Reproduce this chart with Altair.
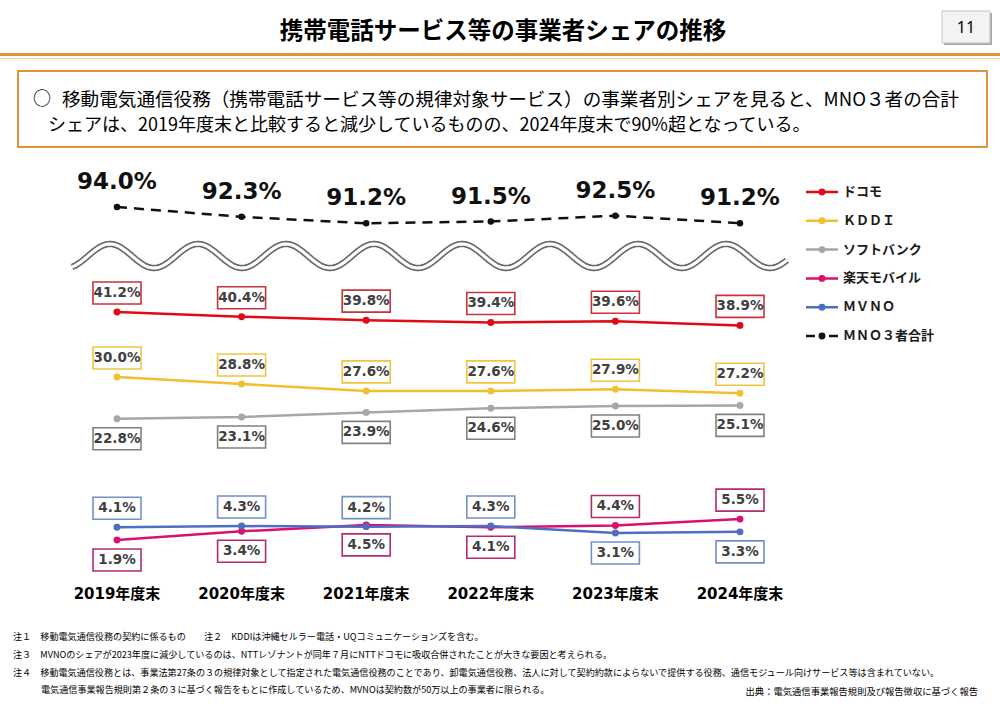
import altair as alt
import pandas as pd

# ---------------- data ----------------
years = ["2019年度末", "2020年度末", "2021年度末", "2022年度末", "2023年度末", "2024年度末"]
series_names = ["ドコモ", "ＫＤＤＩ", "ソフトバンク", "楽天モバイル", "ＭＶＮＯ", "ＭＮＯ３者合計"]
docomo = [41.2, 40.4, 39.8, 39.4, 39.6, 38.9]
kddi = [30.0, 28.8, 27.6, 27.6, 27.9, 27.2]
softbank = [22.8, 23.1, 23.9, 24.6, 25.0, 25.1]
rakuten = [1.9, 3.4, 4.5, 4.1, 4.4, 5.5]
mvno = [4.1, 4.3, 4.2, 4.3, 3.1, 3.3]
mno3 = [94.0, 92.3, 91.2, 91.5, 92.5, 91.2]

# label placement: True = label box above the point
label_above = {
    "ドコモ": [True, True, True, True, True, True],
    "ＫＤＤＩ": [True, True, True, True, True, True],
    "ソフトバンク": [False, False, False, False, False, False],
    "楽天モバイル": [False, False, False, False, True, True],
    "ＭＶＮＯ": [True, True, True, True, False, False],
}

line_colors = ["#E00B16", "#F2BF2F", "#A6A6A6", "#DB0F6D", "#4E6EC3", "#111111"]
box_colors = ["#C9323A", "#F0C440", "#808080", "#B52A6F", "#7290CB"]

title = "携帯電話サービス等の事業者シェアの推移"
summary1 = "移動電気通信役務（携帯電話サービス等の規律対象サービス）の事業者別シェアを見ると、MNO３者の合計"
summary2 = "シェアは、2019年度末と比較すると減少しているものの、2024年度末で90%超となっている。"
notes = [
    "注１　移動電気通信役務の契約に係るもの　　注２　KDDIは沖縄セルラー電話・UQコミュニケーションズを含む。",
    "注３　MVNOのシェアが2023年度に減少しているのは、NTTレゾナントが同年７月にNTTドコモに吸収合併されたことが大きな要因と考えられる。",
    "注４　移動電気通信役務とは、事業法第27条の３の規律対象として指定された電気通信役務のことであり、卸電気通信役務、法人に対して契約約款によらないで提供する役務、通信モジュール向けサービス等は含まれていない。",
]
note4b = "電気通信事業報告規則第２条の３に基づく報告をもとに作成しているため、MVNOは契約数が50万以上の事業者に限られる。"
source = "出典：電気通信事業報告規則及び報告徴収に基づく報告"

# ---------------- tables ----------------
low_series = {"ドコモ": docomo, "ＫＤＤＩ": kddi, "ソフトバンク": softbank,
              "楽天モバイル": rakuten, "ＭＶＮＯ": mvno}
rows = []
for s, vals in low_series.items():
    for i, (y, v) in enumerate(zip(years, vals)):
        rows.append({"year": y, "series": s, "value": v, "label": f"{v:.1f}%",
                     "above": label_above[s][i]})
low_df = pd.DataFrame(rows)
top_df = pd.DataFrame({"year": years, "series": series_names[5], "value": mno3,
                       "label": [f"{v:.1f}%" for v in mno3]})
legend_df = pd.DataFrame({"series": series_names, "idx": list(range(len(series_names)))})

JP = "Noto Sans CJK JP"
NUM = "DejaVu Sans"

xs = alt.X("year:N", scale=alt.Scale(type="point", domain=years, range=[117, 740], padding=0), axis=None)
y_low = alt.Y("value:Q", scale=alt.Scale(domain=[0, 42], range=[551, 307.4], nice=False, zero=False), axis=None)
y_top = alt.Y("value:Q", scale=alt.Scale(domain=[90, 95], range=[230.2, 201.2], nice=False, zero=False), axis=None)
color_enc = alt.Color("series:N", scale=alt.Scale(domain=series_names, range=line_colors), legend=None)
box_enc = alt.Stroke("series:N", scale=alt.Scale(domain=series_names[:5], range=box_colors), legend=None)

one = alt.Data(values=[{"k": 1}])


def txt(s, x, y, size, weight="normal", align="left", color="#000000", font=JP):
    return alt.Chart(one).mark_text(text=s, align=align, baseline="middle", fontSize=size,
                                    fontWeight=weight, color=color, font=font).encode(
        x=alt.value(x), y=alt.value(y))


def rect(x, x2, y, y2, fill, stroke=None, sw=0):
    kw = dict(fill=fill)
    if stroke:
        kw.update(stroke=stroke, strokeWidth=sw)
    return alt.Chart(one).mark_rect(**kw).encode(
        x=alt.value(x), x2=alt.value(x2), y=alt.value(y), y2=alt.value(y2))


layers = []
# header
layers.append(txt(title, 503, 32, 23.5, "bold", "center", "#000000"))
layers.append(rect(944, 992, 13, 45, "#A8A8A8"))
layers.append(rect(942, 990, 11, 43, "#F3F3F3", "#C4C4C4", 1))
layers.append(txt("11", 966, 28, 16, "normal", "center", "#000000", "Noto Sans"))
layers.append(alt.Chart(one).mark_rule(color="#E0913A", strokeWidth=3).encode(
    x=alt.value(0), x2=alt.value(1000), y=alt.value(54.5)))
layers.append(alt.Chart(one).mark_rule(color="#F2D2AC", strokeWidth=1).encode(
    x=alt.value(0), x2=alt.value(1000), y=alt.value(58.5)))
# summary box
layers.append(rect(18, 987, 71, 147, "#FFFFFF", "#E0913A", 2))
layers.append(txt("○", 33, 100, 18, "normal", "left", "#000000"))
layers.append(txt(summary1, 62, 100, 18.6, "normal", "left", "#000000"))
layers.append(txt(summary2, 48, 126, 18, "normal", "left", "#000000"))

# wave (axis break)
wave_base = alt.Chart(alt.sequence(72, 788, 1, as_="wx")).transform_calculate(
    wy="256 - 12*cos(2*PI*(datum.wx-110)/88)")
wave_enc = dict(
    x=alt.X("wx:Q", scale=alt.Scale(domain=[0, 1000], range=[0, 1000]), axis=None),
    y=alt.Y("wy:Q", scale=alt.Scale(domain=[0, 707], range=[0, 707]), axis=None))
layers.append(wave_base.mark_line(color="#6A6A6A", strokeWidth=6.5).encode(**wave_enc))
layers.append(wave_base.mark_line(color="#FFFFFF", strokeWidth=3.2).encode(**wave_enc))

# lower series
low = alt.Chart(low_df)
layers.append(low.mark_line(strokeWidth=2.5).encode(x=xs, y=y_low, color=color_enc, detail="series:N"))
layers.append(low.mark_circle(size=48, opacity=1).encode(x=xs, y=y_low, color=color_enc))
for cond, off in (("datum.above", -19), ("!datum.above", 20)):
    sub = low.transform_filter(cond)
    layers.append(sub.mark_rect(width=48, height=22, yOffset=off, fill="#FFFFFF", strokeWidth=1.6).encode(
        x=xs, y=y_low, stroke=box_enc))
    layers.append(sub.mark_text(dy=off, fontSize=13.5, fontWeight="bold", font=NUM, color="#404040",
                                baseline="middle").encode(x=xs, y=y_low, text="label:N"))

# MNO total
top = alt.Chart(top_df)
layers.append(top.mark_line(strokeWidth=2.5, strokeDash=[10, 7], color="#111111").encode(x=xs, y=y_top))
layers.append(top.mark_circle(size=42, opacity=1, color="#111111").encode(x=xs, y=y_top))
layers.append(top.mark_text(dy=-25, fontSize=23, fontWeight="bold", font=NUM, color="#111111",
                            baseline="middle").encode(x=xs, y=y_top, text="label:N"))

# x labels
layers.append(alt.Chart(pd.DataFrame({"year": years})).mark_text(
    fontSize=15, fontWeight="bold", font=NUM + ", " + JP, color="#000000", baseline="middle").encode(
    x=xs, y=alt.value(594), text="year:N"))

# legend
ly = alt.Y("idx:Q", scale=alt.Scale(domain=[0, 5], range=[192, 336]), axis=None)
leg = alt.Chart(legend_df)
layers.append(leg.mark_rule(strokeWidth=2.5).encode(
    x=alt.value(806), x2=alt.value(838), y=ly, color=color_enc,
    strokeDash=alt.StrokeDash("series:N", scale=alt.Scale(domain=series_names,
                                                          range=[[1, 0]] * 5 + [[9, 14]]), legend=None)))
layers.append(leg.mark_circle(size=48, opacity=1).encode(x=alt.value(822), y=ly, color=color_enc))
layers.append(leg.mark_text(align="left", baseline="middle", fontSize=13, fontWeight="bold", font=JP,
                            color="#1A1A1A").encode(x=alt.value(843), y=ly, text="series:N"))

# notes
for i, (n, yy) in enumerate(zip(notes, [637, 655, 673])):
    layers.append(txt(n, 13, yy, 9.1, "normal", "left", "#000000"))
layers.append(txt(note4b, 41, 690, 9.1, "normal", "left", "#000000"))
layers.append(txt(source, 978, 692, 9.3, "normal", "right", "#000000"))

chart = alt.layer(*layers).resolve_scale(
    x="independent", y="independent", color="independent", stroke="independent", strokeDash="independent"
).properties(
    width=1000, height=707, autosize=alt.AutoSizeParams(type="none"), padding=0, background="#FFFFFF"
).configure_view(stroke=None)

chart.save("out.html", embed_options={"renderer": "svg", "actions": False})
